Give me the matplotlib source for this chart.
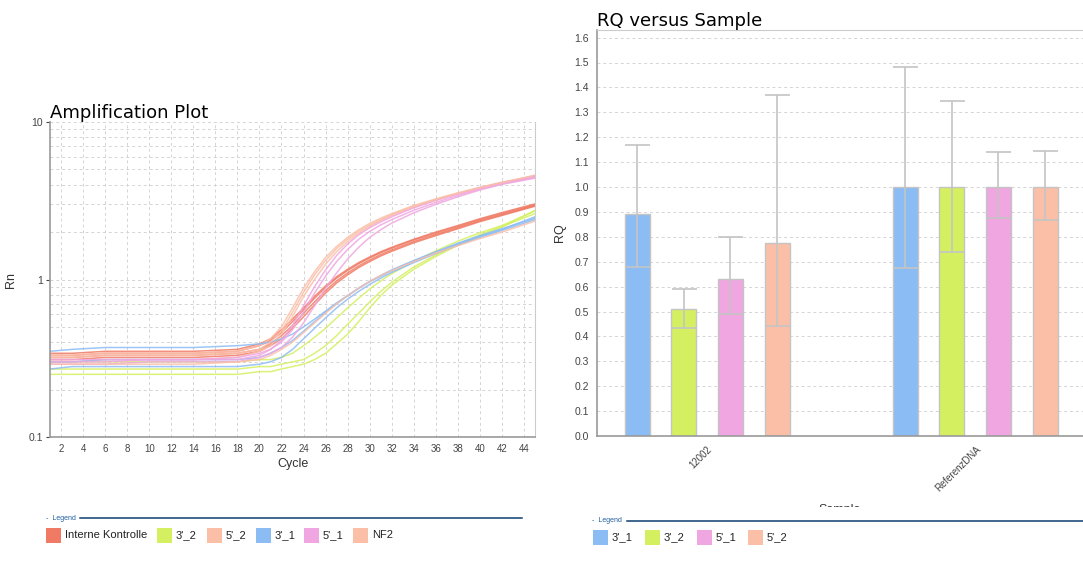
import matplotlib
matplotlib.use("Agg")
import matplotlib.pyplot as plt
import numpy as np
from matplotlib.patches import Rectangle
from matplotlib.lines import Line2D
from matplotlib.ticker import FixedLocator, LogLocator, NullFormatter

# ---- amplification data (Rn per cycle) ----
cycles = [1, 3, 6, 10, 14, 18, 20, 21, 22, 23, 24, 25, 26, 27, 28, 29, 30, 31, 32, 34, 36, 38, 40, 42, 45]

rn_interne = [
    [0.33, 0.33, 0.34, 0.34, 0.34, 0.35, 0.38, 0.41, 0.46, 0.54, 0.64, 0.76, 0.89, 1.02, 1.14, 1.26, 1.37, 1.48, 1.58, 1.78, 1.97, 2.17, 2.40, 2.62, 2.98],
    [0.32, 0.32, 0.33, 0.33, 0.33, 0.34, 0.36, 0.39, 0.44, 0.51, 0.61, 0.72, 0.85, 0.98, 1.10, 1.22, 1.33, 1.44, 1.54, 1.74, 1.93, 2.13, 2.36, 2.58, 2.95],
    [0.34, 0.34, 0.35, 0.35, 0.35, 0.36, 0.39, 0.42, 0.48, 0.56, 0.66, 0.78, 0.91, 1.04, 1.16, 1.28, 1.39, 1.50, 1.60, 1.80, 2.00, 2.20, 2.43, 2.66, 3.02],
    [0.31, 0.31, 0.32, 0.32, 0.32, 0.33, 0.35, 0.38, 0.42, 0.49, 0.58, 0.69, 0.82, 0.95, 1.07, 1.19, 1.30, 1.41, 1.51, 1.71, 1.90, 2.10, 2.33, 2.55, 2.92],
]
rn_3_2 = [
    [0.30, 0.30, 0.30, 0.30, 0.30, 0.30, 0.31, 0.31, 0.32, 0.34, 0.38, 0.43, 0.49, 0.57, 0.66, 0.76, 0.87, 0.98, 1.09, 1.30, 1.52, 1.75, 1.98, 2.20, 2.72],
    [0.27, 0.27, 0.27, 0.27, 0.27, 0.27, 0.28, 0.28, 0.29, 0.30, 0.31, 0.34, 0.38, 0.44, 0.52, 0.61, 0.72, 0.84, 0.96, 1.20, 1.43, 1.67, 1.92, 2.17, 2.62],
    [0.25, 0.25, 0.25, 0.25, 0.25, 0.25, 0.26, 0.26, 0.27, 0.28, 0.29, 0.31, 0.34, 0.39, 0.45, 0.54, 0.66, 0.79, 0.92, 1.16, 1.40, 1.65, 1.90, 2.15, 2.75],
]
rn_5_2 = [
    [0.33, 0.33, 0.34, 0.34, 0.34, 0.35, 0.38, 0.42, 0.50, 0.66, 0.88, 1.12, 1.38, 1.62, 1.85, 2.07, 2.27, 2.45, 2.62, 2.95, 3.25, 3.55, 3.85, 4.15, 4.55],
    [0.30, 0.30, 0.31, 0.31, 0.31, 0.32, 0.35, 0.38, 0.45, 0.58, 0.78, 1.00, 1.25, 1.50, 1.74, 1.97, 2.18, 2.37, 2.55, 2.88, 3.18, 3.50, 3.80, 4.10, 4.50],
]
rn_3_1 = [
    [0.35, 0.36, 0.37, 0.37, 0.37, 0.38, 0.39, 0.40, 0.42, 0.45, 0.50, 0.56, 0.63, 0.71, 0.79, 0.88, 0.97, 1.06, 1.15, 1.32, 1.50, 1.70, 1.90, 2.10, 2.45],
    [0.27, 0.28, 0.28, 0.28, 0.28, 0.28, 0.29, 0.30, 0.32, 0.36, 0.42, 0.49, 0.57, 0.66, 0.75, 0.84, 0.93, 1.02, 1.11, 1.28, 1.46, 1.65, 1.85, 2.05, 2.40],
    [0.30, 0.30, 0.31, 0.31, 0.31, 0.31, 0.32, 0.34, 0.37, 0.41, 0.47, 0.54, 0.62, 0.70, 0.79, 0.88, 0.97, 1.05, 1.14, 1.31, 1.49, 1.68, 1.88, 2.08, 2.50],
]
rn_5_1 = [
    [0.31, 0.31, 0.31, 0.31, 0.31, 0.32, 0.34, 0.36, 0.40, 0.48, 0.62, 0.82, 1.05, 1.30, 1.55, 1.80, 2.02, 2.22, 2.40, 2.75, 3.08, 3.42, 3.75, 4.05, 4.45],
    [0.29, 0.29, 0.29, 0.30, 0.30, 0.30, 0.32, 0.34, 0.37, 0.43, 0.53, 0.68, 0.88, 1.10, 1.35, 1.60, 1.85, 2.07, 2.28, 2.65, 3.00, 3.35, 3.70, 4.02, 4.40],
    [0.30, 0.30, 0.30, 0.31, 0.31, 0.31, 0.33, 0.36, 0.41, 0.51, 0.68, 0.90, 1.15, 1.42, 1.68, 1.92, 2.13, 2.32, 2.50, 2.85, 3.18, 3.50, 3.82, 4.12, 4.55],
]
rn_nf2 = [
    [0.32, 0.32, 0.33, 0.33, 0.33, 0.34, 0.36, 0.40, 0.47, 0.62, 0.83, 1.07, 1.32, 1.57, 1.80, 2.02, 2.22, 2.40, 2.58, 2.92, 3.22, 3.53, 3.82, 4.12, 4.60],
    [0.29, 0.29, 0.29, 0.29, 0.29, 0.30, 0.31, 0.33, 0.36, 0.40, 0.46, 0.53, 0.61, 0.70, 0.79, 0.88, 0.97, 1.06, 1.14, 1.30, 1.47, 1.64, 1.82, 2.00, 2.35],
]

amp_names = ["Interne Kontrolle", "3'_2", "5'_2", "3'_1", "5'_1", "NF2"]
amp_colors = ["#f07a64", "#d4f060", "#fbbfa8", "#8cbcf4", "#f0a6e0", "#fbbfa8"]
amp_data = [rn_interne, rn_3_2, rn_5_2, rn_3_1, rn_5_1, rn_nf2]

# ---- RQ data ----
samples = ["12002", "ReferenzDNA"]
targets = ["3'_1", "3'_2", "5'_1", "5'_2"]
target_colors = ["#8cbcf4", "#d4f060", "#f0a6e0", "#fbbfa8"]
rq_12002 = [0.89, 0.51, 0.63, 0.775]
rq_12002_low = [0.68, 0.435, 0.49, 0.44]
rq_12002_high = [1.17, 0.59, 0.80, 1.37]
rq_ref = [1.0, 1.0, 1.0, 1.0]
rq_ref_low = [0.675, 0.74, 0.875, 0.868]
rq_ref_high = [1.482, 1.345, 1.14, 1.145]

W, H = 1083, 569
fig = plt.figure(figsize=(W / 100, H / 100), dpi=100)
plt.rcParams['font.family'] = ['Liberation Sans', 'DejaVu Sans']


def fx(x):
    return x / W


def fy(y):
    return 1 - y / H


grid_kw = dict(color="#d4d4d4", linestyle=(0, (3, 3)), linewidth=0.7)

# ---------------- Amplification plot ----------------
ax1 = fig.add_axes([fx(50), fy(437), fx(535) - fx(50), fy(122) - fy(437)])
for curves, col in zip(amp_data, amp_colors):
    for rn in curves:
        ax1.plot(cycles, rn, color=col, linewidth=1.1, alpha=0.85)
ax1.set_yscale("log")
ax1.set_ylim(0.1, 10)
ax1.set_xlim(1, 45)
ax1.set_yticks([0.1, 1, 10])
ax1.set_yticklabels(["0.1", "1", "10"])
ax1.yaxis.set_minor_locator(LogLocator(base=10, subs=np.arange(2, 10)))
ax1.yaxis.set_minor_formatter(NullFormatter())
ax1.xaxis.set_major_locator(FixedLocator(np.arange(2, 45, 2)))
ax1.grid(True, which="both", **grid_kw)
ax1.set_axisbelow(True)
ax1.tick_params(axis="x", length=0, labelsize=7, colors="#444444", pad=5)
ax1.tick_params(axis="y", which="major", length=3, labelsize=7.5, colors="#444444", pad=2)
ax1.tick_params(axis="y", which="minor", length=0)
for s in ["left", "bottom"]:
    ax1.spines[s].set_color("#9a9a9a")
    ax1.spines[s].set_linewidth(1.2)
ax1.spines["right"].set_color("#cccccc")
ax1.spines["top"].set_visible(False)
ax1.set_title("Amplification Plot", loc="left", fontsize=13, family="DejaVu Sans", pad=3)
ax1.set_ylabel("Rn", fontsize=9, color="#333333")
ax1.yaxis.set_label_coords((17 - 50) / 485, 0.5)
ax1.set_xlabel("Cycle", fontsize=9, color="#333333", labelpad=3)

# ---------------- RQ versus Sample ----------------
slot = 46.7
x0 = 637
ax2 = fig.add_axes([fx(597), fy(436), fx(1090) - fx(597), fy(30) - fy(436)])
g1 = np.arange(4)
g2 = np.arange(4) + (905 - x0) / slot
bw = 25 / slot
for vals, lows, highs, pos in [(rq_12002, rq_12002_low, rq_12002_high, g1),
                               (rq_ref, rq_ref_low, rq_ref_high, g2)]:
    vals = np.array(vals)
    ax2.bar(pos, vals, width=bw, color=target_colors, edgecolor="#c4c4c4", linewidth=1, zorder=2)
    ax2.errorbar(pos, vals, yerr=[vals - np.array(lows), np.array(highs) - vals], fmt="none",
                 ecolor="#c4c4c4", elinewidth=1.2, capsize=9, capthick=1.2, zorder=3)
ax2.set_xlim((597 - x0) / slot, (1090 - x0) / slot)
ax2.set_ylim(0, (436 - 30) / 249)
ax2.set_yticks(np.arange(0, 1.65, 0.1))
ax2.set_yticklabels(["%.1f" % v for v in np.arange(0, 1.65, 0.1)])
ax2.set_xticks([g1.mean() + 7 / slot, g2.mean() + 8 / slot])
ax2.set_xticklabels(samples, rotation=45, ha="right", va="top")
ax2.yaxis.grid(True, **grid_kw)
ax2.set_axisbelow(True)
ax2.tick_params(axis="x", length=0, labelsize=7, colors="#444444", pad=6)
ax2.tick_params(axis="y", length=0, labelsize=7.5, colors="#444444", pad=6)
for s in ["left", "bottom"]:
    ax2.spines[s].set_color("#9a9a9a")
    ax2.spines[s].set_linewidth(1.2)
ax2.spines["top"].set_color("#cccccc")
ax2.spines["right"].set_visible(False)
ax2.set_title("RQ versus Sample", loc="left", fontsize=13, family="DejaVu Sans", pad=3)
ax2.set_ylabel("RQ", fontsize=9, color="#333333")
ax2.yaxis.set_label_coords((566 - 597) / 486, 0.5)

# x label "Sample" half hidden behind the legend panel
fig.text(fx(840), fy(510), "Sample", fontsize=9, color="#333333", ha="center", va="center", zorder=1)
fig.add_artist(Rectangle((fx(560), 0), 1 - fx(560), fy(507), transform=fig.transFigure,
                         facecolor="white", edgecolor="none", zorder=5))


# ---------------- legends ----------------
def legend_panel(x_start, x_line0, x_line1, y_line, y_item, items):
    fig.text(fx(x_start), fy(y_line), "-  Legend", fontsize=5, color="#1f5fa0",
             ha="left", va="center", zorder=6)
    fig.add_artist(Line2D([fx(x_line0), fx(x_line1)], [fy(y_line), fy(y_line)],
                          color="#0d3f73", linewidth=1.1, zorder=6))
    for px, name, col in items:
        fig.add_artist(Rectangle((fx(px), fy(y_item + 7.5)), fx(15), fy(0) - fy(15),
                                 transform=fig.transFigure, facecolor=col,
                                 edgecolor="none", zorder=6))
        fig.text(fx(px + 19), fy(y_item), name, fontsize=8, color="#222222",
                 ha="left", va="center", zorder=6)


legend_panel(46, 80, 522, 518, 535,
             list(zip([46, 157, 207, 256, 304, 353], amp_names, amp_colors)))
legend_panel(592, 627, 1083, 521, 537,
             list(zip([593, 645, 697, 748], targets, target_colors)))

fig.savefig("out.png", dpi=100)
